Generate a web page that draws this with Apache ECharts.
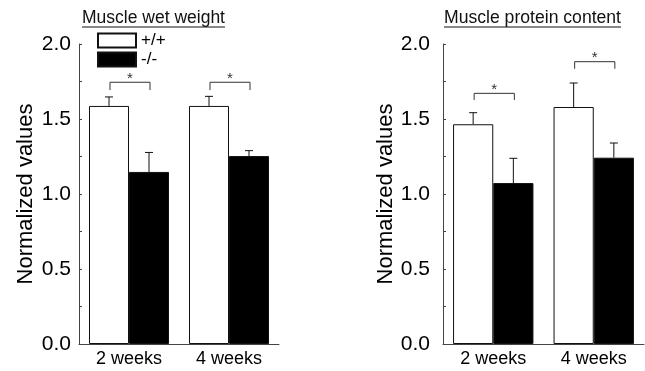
<!DOCTYPE html>
<html><head><meta charset="utf-8">
<script src="https://cdn.jsdelivr.net/npm/echarts@6/dist/echarts.min.js"></script>
<style>html,body{margin:0;padding:0;background:#fff}#c{width:645px;height:371px}</style>
</head><body><div id="c"></div>
<script>
const categories = ['2 weeks', '4 weeks'];
const legendNames = ['+/+', '-/-'];
const panelTitles = ['Muscle wet weight', 'Muscle protein content'];
const yTicks = [0, 0.5, 1.0, 1.5, 2.0];
// Muscle wet weight
const wetWT = [1.587, 1.587];
const wetWTErr = [0.060, 0.064];
const wetKO = [1.147, 1.253];
const wetKOErr = [0.130, 0.036];
// Muscle protein content
const protWT = [1.465, 1.580];
const protWTErr = [0.077, 0.160];
const protKO = [1.073, 1.242];
const protKOErr = [0.165, 0.098];
// significance brackets: [level, leg bottom]
const wetBrackets = [[1.745, 1.693], [1.745, 1.693]];
const protBrackets = [[1.671, 1.627], [1.882, 1.835]];
const sigMark = '*';

const FONT = 'Liberation Sans, Arial, sans-serif';
const AX = '#444';

function errData(vals, errs, side) {
  return vals.map((v, i) => [i, v, v + errs[i], side]);
}
function brData(br) {
  return br.map((b, i) => [i, b[0], b[1]]);
}
function errRender(params, api) {
  const cat = api.value(0), mean = api.value(1), top = api.value(2), side = api.value(3);
  const band = api.size([1, 0])[0];
  const p0 = api.coord([cat, mean]);
  const p1 = api.coord([cat, top]);
  const x = p0[0] + side * 0.2 * band;
  const st = { stroke: '#111', lineWidth: 1 };
  return { type: 'group', children: [
    { type: 'line', shape: { x1: x, y1: p0[1], x2: x, y2: p1[1] }, style: st },
    { type: 'line', shape: { x1: x - 4, y1: p1[1], x2: x + 4, y2: p1[1] }, style: st }
  ]};
}
function brRender(params, api) {
  const cat = api.value(0), lvl = api.value(1), leg = api.value(2);
  const band = api.size([1, 0])[0];
  const p = api.coord([cat, lvl]);
  const q = api.coord([cat, leg]);
  const xl = p[0] - 0.2 * band + 1, xr = p[0] + 0.2 * band + 1;
  return { type: 'group', children: [
    { type: 'polyline', shape: { points: [[xl, q[1]], [xl, p[1]], [xr, p[1]], [xr, q[1]]] },
      style: { stroke: '#333', lineWidth: 1, fill: null } },
    { type: 'text', x: p[0] + 1, y: p[1] + 4, style: { text: sigMark, font: '15px ' + FONT, fill: '#333', align: 'center', verticalAlign: 'bottom' } }
  ]};
}

function yAxis(gi, margin, gap) {
  return {
    type: 'value', gridIndex: gi, min: 0, max: 2, interval: 0.5,
    name: 'Normalized values', nameLocation: 'middle', nameGap: gap,
    nameTextStyle: { fontSize: 22, color: '#000', fontFamily: FONT },
    axisLine: { show: true, lineStyle: { color: AX, width: 1 } },
    axisTick: { show: true, inside: true, length: 3, lineStyle: { color: AX } },
    minorTick: { show: true, splitNumber: 2, length: 3, lineStyle: { color: AX } },
    axisLabel: { fontSize: 21, color: '#000', fontFamily: FONT, margin: margin, formatter: v => v.toFixed(1) },
    splitLine: { show: false }
  };
}
function xAxis(gi) {
  return {
    type: 'category', gridIndex: gi, data: categories,
    axisLine: { show: true, lineStyle: { color: AX, width: 1 } },
    axisTick: { show: false },
    axisLabel: { fontSize: 18, color: '#000', fontFamily: FONT, margin: 6 }
  };
}
function bars(gi, name, data, color) {
  return {
    type: 'bar', name: name, xAxisIndex: gi, yAxisIndex: gi, data: data,
    barWidth: '40%', barGap: '0%',
    itemStyle: { color: color, borderColor: '#111', borderWidth: 1 }
  };
}
function custom(gi, data, render) {
  return { type: 'custom', xAxisIndex: gi, yAxisIndex: gi, data: data, renderItem: render, z: 5, silent: true };
}

const chart = echarts.init(document.getElementById('c'), null, { renderer: 'canvas' });
chart.setOption({
  animation: false,
  backgroundColor: '#fff',
  legend: {
    data: legendNames.map(n => ({ name: n, icon: 'rect' })), orient: 'vertical', left: 97, top: 32,
    padding: 0, itemWidth: 38, itemHeight: 14, itemGap: 2,
    textStyle: { fontSize: 17, color: '#000', fontFamily: FONT, lineHeight: 14, padding: [0, 0, 0, 0] },
    selectedMode: false, z: 1
  },
  grid: [
    { left: 79, top: 44, width: 200, height: 300 },
    { left: 443, top: 44, width: 201, height: 300 }
  ],
  xAxis: [xAxis(0), xAxis(1)],
  yAxis: [yAxis(0, 8, 42), yAxis(1, 13, 41)],
  series: [
    bars(0, legendNames[0], wetWT, '#fff'),
    bars(0, legendNames[1], wetKO, '#000'),
    custom(0, errData(wetWT, wetWTErr, -1), errRender),
    custom(0, errData(wetKO, wetKOErr, 1), errRender),
    custom(0, brData(wetBrackets), brRender),
    bars(1, legendNames[0], protWT, '#fff'),
    bars(1, legendNames[1], protKO, '#000'),
    custom(1, errData(protWT, protWTErr, -1), errRender),
    custom(1, errData(protKO, protKOErr, 1), errRender),
    custom(1, brData(protBrackets), brRender)
  ],
  graphic: [
    { type: 'text', left: 82, top: 9, style: { text: panelTitles[0], font: '17.5px ' + FONT, fill: '#111' } },
    { type: 'text', left: 444, top: 9, style: { text: panelTitles[1], font: '17.6px ' + FONT, fill: '#111' } }
  ]
});
// underline the titles using measured text extents
const zr = chart.getZr();
(function underline() {
  const els = [];
  zr.storage.getDisplayList(true).forEach(el => {
    if (el.style && (el.style.text === panelTitles[0] || el.style.text === panelTitles[1]) && el.getBoundingRect) {
      const r = el.getBoundingRect().clone();
      r.applyTransform(el.getComputedTransform ? el.getComputedTransform() : el.transform);
      els.push(r);
    }
  });
  chart.setOption({ graphic: els.map((r, i) => ({
    type: 'line', id: 'ul' + i, shape: { x1: r.x, y1: r.y + r.height, x2: r.x + r.width, y2: r.y + r.height },
    style: { stroke: '#111', lineWidth: 1 } })) });
})();
</script></body></html>
